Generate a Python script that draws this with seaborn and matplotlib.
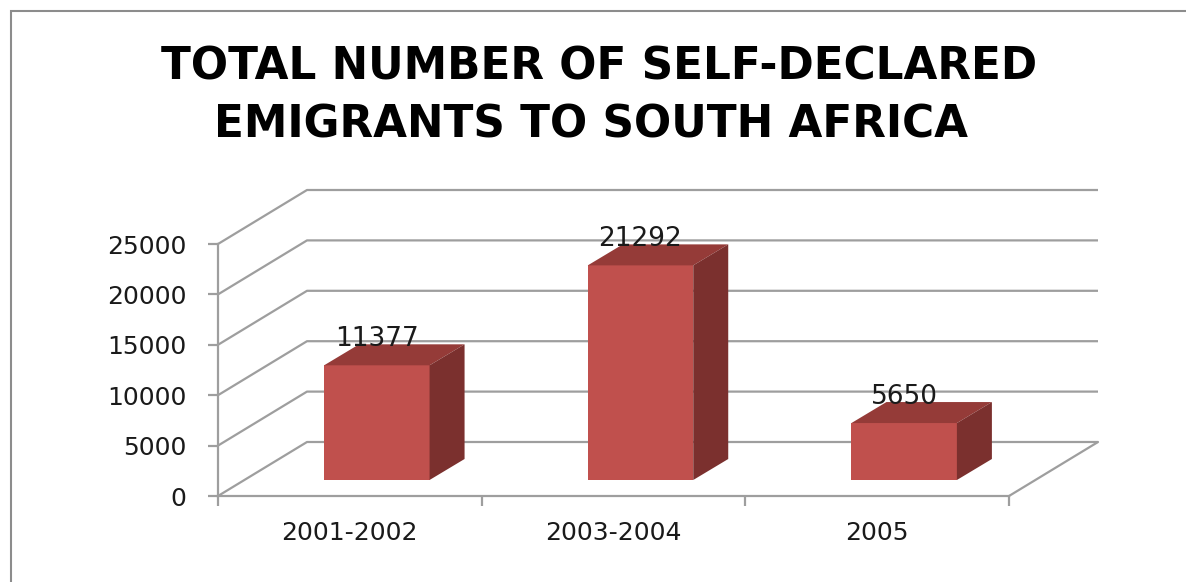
import matplotlib
matplotlib.use("Agg")
import matplotlib.pyplot as plt
from matplotlib.patches import Polygon, Rectangle
import seaborn as sns
import pandas as pd

# ---- data ----
periods = ["2001-2002", "2003-2004", "2005"]
emigrants = [11377, 21292, 5650]
y_ticks = [0, 5000, 10000, 15000, 20000, 25000]
title_lines = ["TOTAL NUMBER OF SELF-DECLARED", "EMIGRANTS TO SOUTH AFRICA"]

# ---- style ----
FRONT = "#C0504D"
TOP = "#953B38"
SIDE = "#7B302E"
GRID = "#9E9E9E"
TEXT = "#1A1A1A"

sns.set_theme(style="white")
plt.rcParams["font.family"] = ["DejaVu Sans"]

W, H = 1186, 582
fig = plt.figure(figsize=(W / 100, H / 100), dpi=100)

# plot box of the front plane, in pixels
PL, PR, PT, PB = 218, 1009, 244, 496
pw, ph = PR - PL, PB - PT
ymax = y_ticks[-1]
ncat = len(periods)

# 3-D depth of the plot box and of each bar (pixels: right, up)
DEPTH = (89, 54)
BAR_FRONT = (27, 16)
BAR_DEPTH = (35, 21)

ux = ncat / pw        # category units per pixel
uy = ymax / ph        # value units per pixel

ax_front = fig.add_axes([PL / W, (H - PB) / H, pw / W, ph / H])
ax_bar = fig.add_axes([(PL + BAR_FRONT[0]) / W, (H - PB + BAR_FRONT[1]) / H, pw / W, ph / H])
for a in (ax_front, ax_bar):
    a.set_xlim(-0.5, ncat - 0.5)
    a.set_ylim(0, ymax)
    a.patch.set_alpha(0)

# ---- walls, floor and gridlines ----
dx, dy = DEPTH[0] * ux, DEPTH[1] * uy
x0, x1 = -0.5, ncat - 0.5
for v in y_ticks:
    ax_front.plot([x0, x0 + dx, x1 + dx], [v, v + dy, v + dy],
                  color=GRID, lw=1.6, clip_on=False, solid_capstyle="butt")
ax_front.plot([x1, x1 + dx], [0, dy], color=GRID, lw=1.6, clip_on=False)

for side in ("top", "right"):
    ax_front.spines[side].set_visible(False)
for side in ("left", "bottom"):
    ax_front.spines[side].set_color(GRID)
    ax_front.spines[side].set_linewidth(1.6)

ax_front.set_yticks(y_ticks)
ax_front.set_yticklabels([str(t) for t in y_ticks])
ax_front.set_xticks([i - 0.5 for i in range(ncat + 1)])
ax_front.set_xticklabels([])
ax_front.set_xticks(range(ncat), minor=True)
ax_front.set_xticklabels(periods, minor=True)
ax_front.tick_params(axis="y", which="major", direction="out", length=7.5, width=1.6,
                     color=GRID, pad=15, labelsize=18, labelcolor=TEXT, left=True)
ax_front.tick_params(axis="x", which="major", direction="out", length=7.5, width=1.6,
                     color=GRID, bottom=True)
ax_front.tick_params(axis="x", which="minor", length=0, pad=27, labelsize=18,
                     labelcolor=TEXT)
for lab in ax_front.get_xticklabels(minor=True):
    lab.set_verticalalignment("center")

# ---- bars ----
df = pd.DataFrame({"period": periods, "emigrants": emigrants})
sns.barplot(data=df, x="period", y="emigrants", ax=ax_bar, color=FRONT,
            saturation=1, width=0.4, edgecolor="none", zorder=3)
ax_bar.set_xlim(-0.5, ncat - 0.5)
ax_bar.set_ylim(0, ymax)
ax_bar.axis("off")

bdx, bdy = BAR_DEPTH[0] * ux, BAR_DEPTH[1] * uy
for bar, val in zip(ax_bar.patches, emigrants):
    bx, bw, bh = bar.get_x(), bar.get_width(), bar.get_height()
    top = Polygon([(bx, bh), (bx + bw, bh), (bx + bw + bdx, bh + bdy), (bx + bdx, bh + bdy)],
                  closed=True, facecolor=TOP, edgecolor="none", clip_on=False, zorder=3)
    side = Polygon([(bx + bw, 0), (bx + bw + bdx, bdy), (bx + bw + bdx, bh + bdy), (bx + bw, bh)],
                   closed=True, facecolor=SIDE, edgecolor="none", clip_on=False, zorder=3)
    ax_bar.add_patch(top)
    ax_bar.add_patch(side)
    ax_bar.text(bx + bw / 2, bh + bdy + 5 * uy, f"{val}", ha="center", va="center",
                fontsize=19, color=TEXT, zorder=5, clip_on=False)

# ---- title ----
fig.text(599 / W, 1 - 80 / H, title_lines[0], ha="center", va="baseline", fontsize=31.5,
         fontweight="bold", color="black")
fig.text(591 / W, 1 - 138 / H, title_lines[1], ha="center", va="baseline", fontsize=31.5,
         fontweight="bold", color="black")

# ---- chart frame ----
fig.patches.append(Rectangle((10.5 / W, -0.1), 1.2, 1 - 10.5 / H + 0.1,
                             transform=fig.transFigure, fill=False,
                             edgecolor="#8C8C8C", lw=1.5))

fig.savefig("out.png", dpi=100)
